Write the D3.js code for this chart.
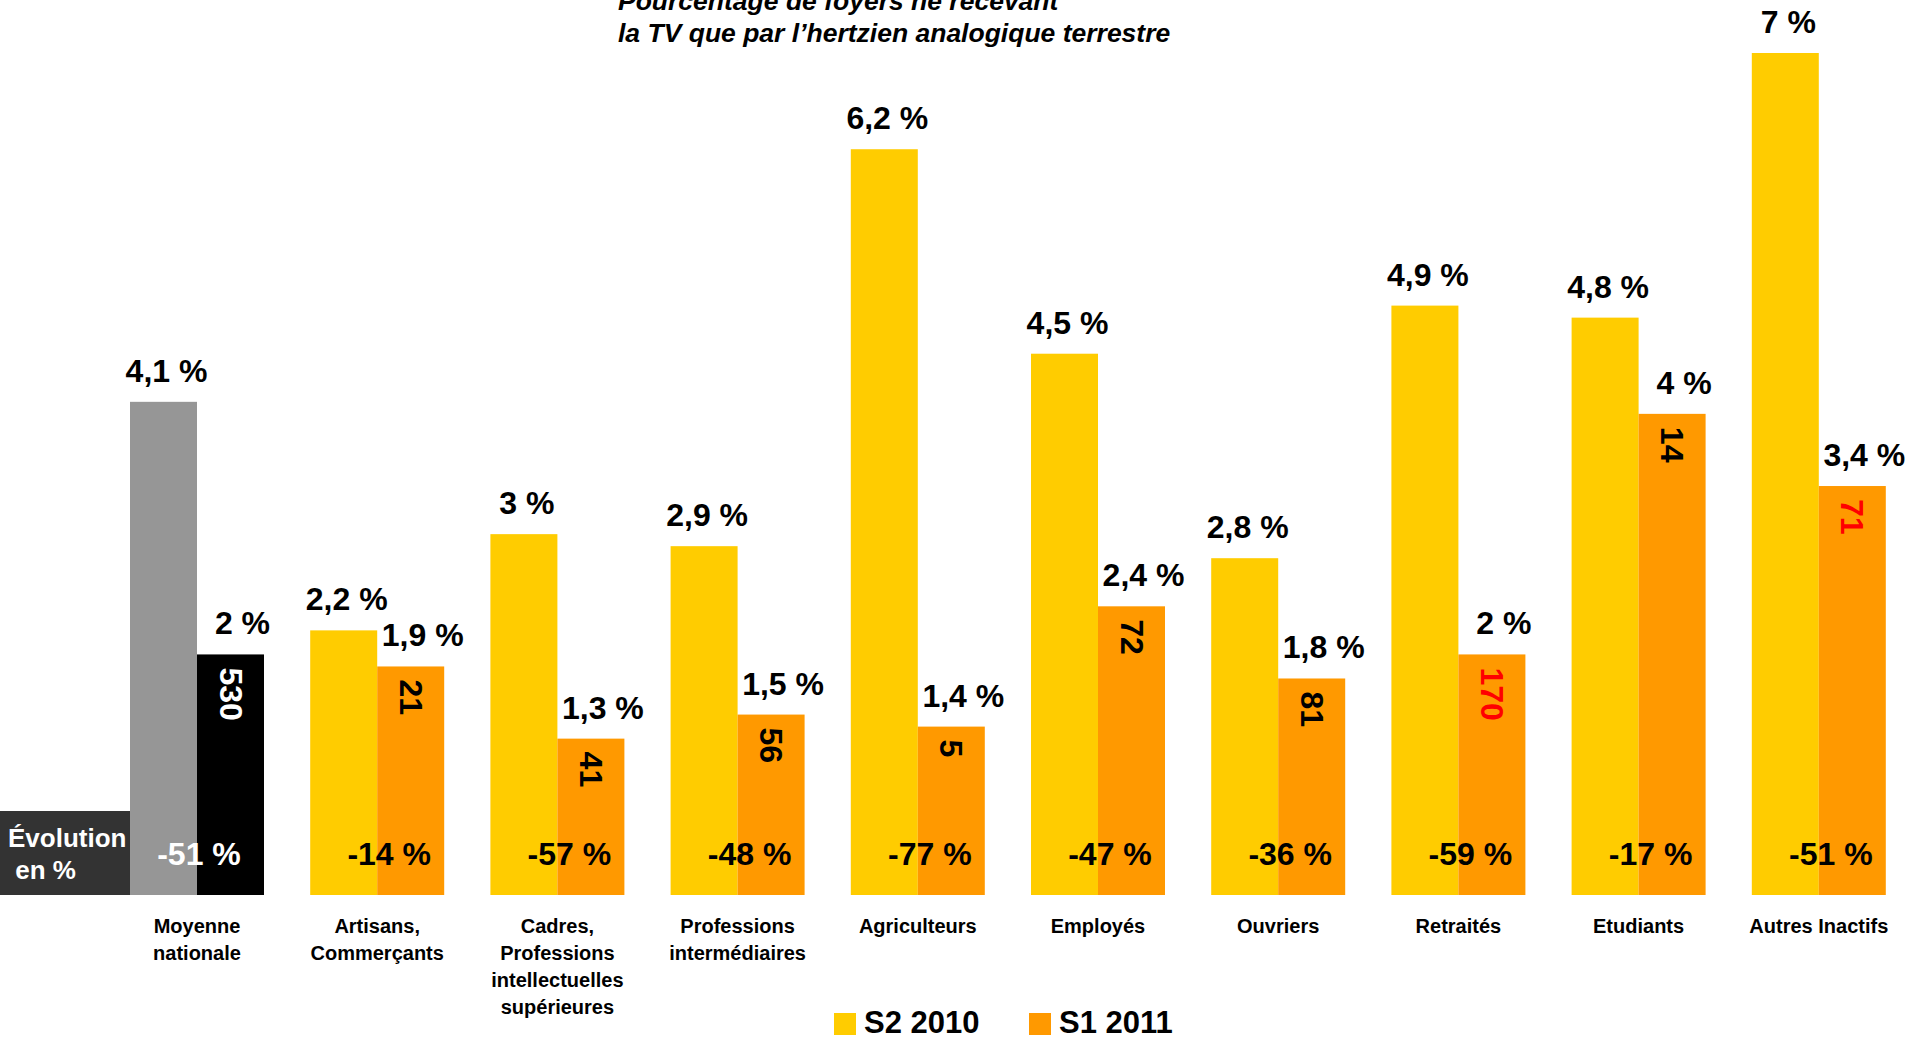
<!DOCTYPE html>
<html>
<head>
<meta charset="utf-8">
<script src="https://cdn.jsdelivr.net/npm/d3@7"></script>
<style>
  html, body { margin: 0; padding: 0; background: #fff; }
  svg { display: block; }
  text { font-family: "Liberation Sans", Arial, Helvetica, sans-serif; font-weight: bold; }
</style>
</head>
<body>
<svg id="chart" width="1920" height="1040"></svg>
<script>
// ---- Data ----
const categories = [
  "Moyenne|nationale",
  "Artisans,|Commerçants",
  "Cadres,|Professions|intellectuelles|supérieures",
  "Professions|intermédiaires",
  "Agriculteurs",
  "Employés",
  "Ouvriers",
  "Retraités",
  "Etudiants",
  "Autres Inactifs"
];
const seriesNames = ["S2 2010", "S1 2011"];
const valuesS2_2010 = [4.1, 2.2, 3, 2.9, 6.2, 4.5, 2.8, 4.9, 4.8, 7];
const valuesS1_2011 = [2, 1.9, 1.3, 1.5, 1.4, 2.4, 1.8, 2, 4, 3.4];
const effectifs = [530, 21, 41, 56, 5, 72, 81, 170, 14, 71];
const evolution = [-51, -14, -57, -48, -77, -47, -36, -59, -17, -51];
const faibleEffectif = [false, false, false, false, false, false, false, true, false, true];
const titleLines = ["Pourcentage de foyers ne recevant", "la TV que par l\u2019hertzien analogique terrestre"];
const evolutionLabel = ["Évolution", "\u00a0en %"];

// ---- Styles ----
const colors = ["#FFCC00", "#FF9900"];
const refColors = ["#969696", "#000000"];

const svg = d3.select("#chart");
const fmt = v => String(v).replace(".", ",") + " %";

const x = d3.scaleBand()
  .domain(categories)
  .range([130, 1885.8])
  .paddingInner(0.2564)
  .paddingOuter(0);
const xs = d3.scaleBand().domain([0, 1]).range([0, x.bandwidth()]).padding(0);
const y = d3.scaleLinear().domain([0, 7]).range([895, 53]);

const data = categories.map((c, i) => ({
  cat: c, i,
  vals: [valuesS2_2010[i], valuesS1_2011[i]],
  eff: effectifs[i], evo: evolution[i], red: faibleEffectif[i]
}));

// Évolution box
svg.append("rect").attr("x", 0).attr("y", 811).attr("width", 130).attr("height", 84).attr("fill", "#333333");
svg.append("text").attr("x", 8).attr("y", 847).attr("fill", "#fff").attr("font-size", 26).text(evolutionLabel[0]);
svg.append("text").attr("x", 8).attr("y", 879).attr("fill", "#fff").attr("font-size", 26).text(evolutionLabel[1]);

// Bars
const g = svg.selectAll("g.grp").data(data).enter().append("g")
  .attr("class", "grp")
  .attr("transform", d => `translate(${x(d.cat)},0)`);

g.selectAll("rect.bar").data(d => d.vals.map((v, s) => ({ v, s, i: d.i }))).enter()
  .append("rect")
  .attr("class", "bar")
  .attr("x", d => xs(d.s))
  .attr("y", d => y(d.v))
  .attr("width", xs.bandwidth())
  .attr("height", d => y(0) - y(d.v))
  .attr("fill", d => d.i === 0 ? refColors[d.s] : colors[d.s]);

// Value labels above bars
const labelDx = [3, 12];
g.selectAll("text.val").data(d => d.vals.map((v, s) => ({ v, s, i: d.i }))).enter()
  .append("text")
  .attr("class", "val")
  .attr("x", d => xs(d.s) + xs.bandwidth() / 2 + labelDx[d.s])
  .attr("y", d => y(d.v) - 20)
  .attr("text-anchor", "middle")
  .attr("font-size", 32)
  .attr("fill", "#000")
  .text(d => fmt(d.v));

// Rotated sample sizes inside S1 2011 bars
g.append("text")
  .attr("class", "eff")
  .each(function (d) {
    const cx = xs(1) + xs.bandwidth() / 2;
    const cy = y(d.vals[1]) + 13;
    d3.select(this)
      .attr("x", cx).attr("y", cy)
      .attr("transform", `rotate(90,${cx},${cy})`);
  })
  .attr("text-anchor", "start")
  .attr("dominant-baseline", "central")
  .attr("font-size", 32)
  .attr("fill", d => d.i === 0 ? "#fff" : (d.red ? "#FF0000" : "#000"))
  .text(d => d.eff);

// Evolution labels
g.append("text")
  .attr("class", "evo")
  .attr("x", d => x.bandwidth() / 2 + (d.i === 0 ? 2 : 12))
  .attr("y", 865)
  .attr("text-anchor", "middle")
  .attr("font-size", 32)
  .attr("fill", d => d.i === 0 ? "#fff" : "#000")
  .text(d => d.evo + " %");

// Category labels
g.append("text")
  .attr("class", "cat")
  .attr("text-anchor", "middle")
  .attr("font-size", 20)
  .attr("fill", "#000")
  .each(function (d) {
    const t = d3.select(this);
    d.cat.split("|").forEach((line, k) => {
      t.append("tspan").attr("x", x.bandwidth() / 2).attr("y", 933 + k * 27).text(line);
    });
  });

// Title
const title = svg.append("text").attr("font-size", 26.5).attr("font-style", "italic").attr("fill", "#000");
titleLines.forEach((line, k) => {
  title.append("tspan").attr("x", 618).attr("y", 10 + k * 32).text(line);
});

// Legend
const legendX = [834, 1029];
seriesNames.forEach((name, s) => {
  svg.append("rect").attr("x", legendX[s]).attr("y", 1013).attr("width", 22).attr("height", 22).attr("fill", colors[s]);
  svg.append("text").attr("x", legendX[s] + 30).attr("y", 1033).attr("font-size", 31).attr("fill", "#000").text(name);
});
</script>
</body>
</html>
